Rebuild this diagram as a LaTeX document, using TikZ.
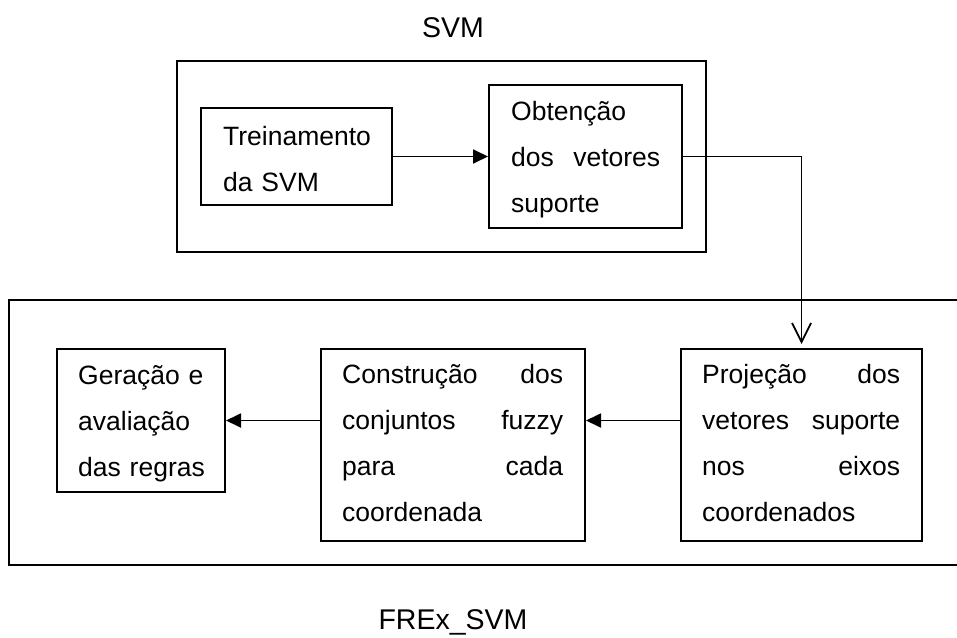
\documentclass[tikz,border=0pt]{standalone}
\usepackage{fontspec}
\setmainfont{Liberation Sans}
\usetikzlibrary{arrows.meta}
\begin{document}
\begin{tikzpicture}[x=1pt,y=-1pt,
  frame/.style={draw, line width=2pt, inner sep=0pt},
  body/.style={anchor=north west, inner sep=0pt, align=left, font=\fontsize{26.5}{46}\selectfont},
  title/.style={inner sep=0pt, font=\fontsize{28.5}{34}\selectfont, anchor=base},
  link/.style={line width=1.8pt, -{Triangle[length=15pt,width=14pt]}},
  openlink/.style={line width=1.8pt, -{Straight Barb[length=19pt,width=19pt]}, shorten >=4pt},
]
\useasboundingbox (0,0) rectangle (957,637);

% titles
\node[title] (tsvm) at (453,37) {SVM};
\node[title] (tfrex) at (453,629) {FREx\_SVM};

% outer frames
\node[frame, minimum width=529pt, minimum height=191pt] (svmbox) at (441.5,156.5) {};
\coordinate (fa) at (957,300);
\coordinate (fb) at (9,300);
\coordinate (fc) at (9,565);
\coordinate (fd) at (957,565);
\draw[line width=2pt] (fa) -- (fb) -- (fc) -- (fd);

% boxes
\node[frame, minimum width=191pt, minimum height=97pt] (trein) at (296.5,156.5) {};
\node[frame, minimum width=193pt, minimum height=143pt] (obt) at (585.5,156.5) {};
\node[frame, minimum width=168pt, minimum height=143pt] (ger) at (141,420.5) {};
\node[frame, minimum width=264pt, minimum height=192pt] (cons) at (453,445) {};
\node[frame, minimum width=241pt, minimum height=192pt] (proj) at (801.5,445) {};

% texts
\node[body, text width=160pt] (treinT) at (223,121) {\rule{0pt}{24pt}Treinamento\\da SVM};
\node[body, text width=149pt] (obtT) at (511,96) {\rule{0pt}{24pt}Obtenção\\dos\hfill vetores\\suporte};
\node[body, text width=140pt] (gerT) at (78,360) {\rule{0pt}{24pt}Geração e\\avaliação\\das regras};
\node[body, text width=221pt] (consT) at (342,359) {\rule{0pt}{24pt}Construção\hfill dos\\conjuntos\hfill fuzzy\\para\hfill cada\\coordenada};
\node[body, text width=198pt] (projT) at (702,359) {\rule{0pt}{24pt}Projeção\hfill dos\\vetores\hfill suporte\\nos\hfill eixos\\coordenados};

% connectors
\draw[link] (trein.east) -- (obt.west);
\draw[openlink] (obt.east) -| (proj.north);
\draw[link] (proj.west |- ger.east) -- (cons.east |- ger.east);
\draw[link] (cons.west |- ger.east) -- (ger.east);
\end{tikzpicture}
\end{document}
